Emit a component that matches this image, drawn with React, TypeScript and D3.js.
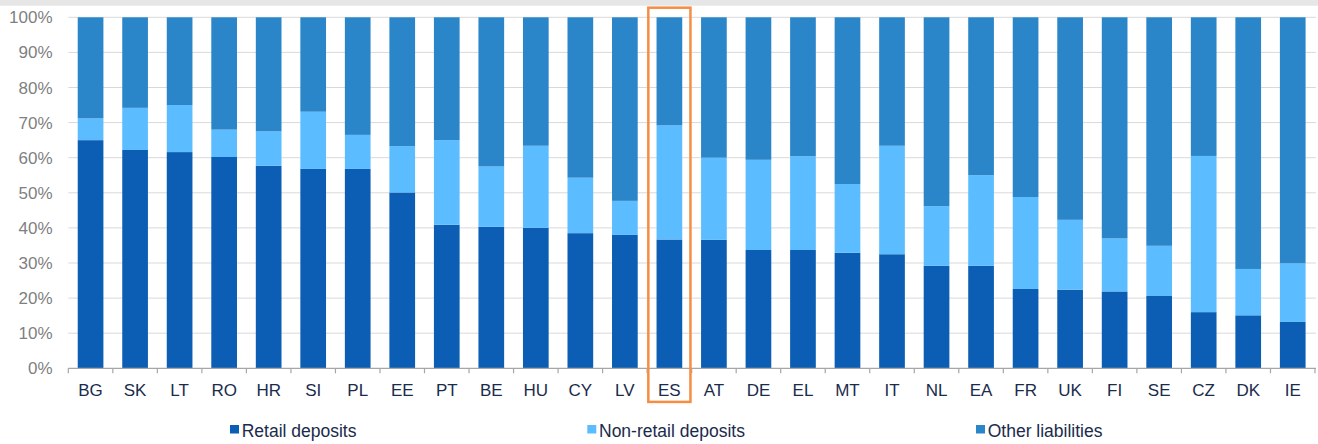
import React from "react";
import * as d3 from "d3";

const categories = ["BG","SK","LT","RO","HR","SI","PL","EE","PT","BE","HU","CY","LV","ES","AT","DE","EL","MT","IT","NL","EA","FR","UK","FI","SE","CZ","DK","IE"];
// share of total liabilities (%)
const retailDeposits = [65.0,62.2,61.6,60.2,57.7,56.8,56.8,50.1,40.9,40.3,40.0,38.5,38.0,36.7,36.6,33.7,33.7,32.9,32.5,29.2,29.2,22.6,22.4,21.9,20.6,16.0,15.1,13.2];
const nonRetailDeposits = [6.2,12.0,13.4,7.8,9.8,16.3,9.7,13.2,24.1,17.2,23.4,15.8,9.7,32.5,23.4,25.7,26.7,19.6,30.9,17.0,25.8,26.2,19.9,15.1,14.3,44.5,13.2,16.7];
const otherLiabilities = retailDeposits.map((r, i) => 100 - r - nonRetailDeposits[i]);
const yTicks = [0,10,20,30,40,50,60,70,80,90,100];
const seriesNames = ["Retail deposits","Non-retail deposits","Other liabilities"];
const seriesColors = ["#0b5eb3","#5bbdff","#2a86c9"];
const highlighted = "ES";

const W = 1318, H = 444;
const X0 = 68.3, X1 = 1315, Y0 = 368.3, Y1 = 17.3;

export default function App() {
  const x = d3.scaleBand<string>().domain(categories).range([X0, X1]).paddingInner(0.423).paddingOuter(0.2115);
  const y = d3.scaleLinear().domain([0, 100]).range([Y0, Y1]);
  const step = x.step();
  const rows = categories.map((c, i) => ({
    cat: c,
    retail: retailDeposits[i],
    nonretail: nonRetailDeposits[i],
    other: otherLiabilities[i],
  }));
  const stack = d3.stack<any>().keys(["retail", "nonretail", "other"])(rows);
  const font = "'Liberation Sans', Arial, sans-serif";
  const legendX = [230, 587.3, 976];
  const hx = x(highlighted)!;

  return (
    <svg width={W} height={H} style={{ position: "fixed", left: 0, top: 0, background: "#fff" }} fontFamily={font}>
      <rect x={0} y={0} width={W} height={5.7} fill="#e6e6e6" />
      {yTicks.map((t) => (
        <g key={t}>
          {t > 0 && <line x1={X0} x2={1316} y1={y(t)} y2={y(t)} stroke="#d9d9d9" strokeWidth={1} />}
          <text x={52.5} y={y(t) + 6} textAnchor="end" fontSize={17} fill="#7f7f7f">{t}%</text>
        </g>
      ))}
      {stack.map((s, si) => (
        <g key={si} fill={seriesColors[si]}>
          {s.map((d: any, i: number) => (
            <rect key={i} x={x(categories[i])} width={x.bandwidth()} y={y(d[1])} height={y(d[0]) - y(d[1])} />
          ))}
        </g>
      ))}
      <line x1={X0} x2={1316} y1={Y0} y2={Y0} stroke="#a6a6a6" strokeWidth={1.2} />
      {d3.range(categories.length + 1).map((i) => (
        <line key={i} x1={X0 + i * step} x2={X0 + i * step} y1={Y0} y2={Y0 + 5} stroke="#a6a6a6" strokeWidth={1.2} />
      ))}
      {categories.map((c) => (
        <text key={c} x={x(c)! + x.bandwidth() / 2} y={395.5} textAnchor="middle" fontSize={17} fill="#1a2b4c">{c}</text>
      ))}
      <rect x={hx - (x.bandwidth() * 0.423 / 0.577) / 2 + 1.2} y={7.7} width={step - 2.4} height={394.2} fill="none" stroke="#f58d45" strokeWidth={2.5} />
      {seriesNames.map((n, i) => (
        <g key={n}>
          <rect x={legendX[i]} y={425} width={9} height={8.5} fill={seriesColors[i]} />
          <text x={legendX[i] + 11.7} y={436.8} fontSize={17.5} fill="#1a2b4c">{n}</text>
        </g>
      ))}
    </svg>
  );
}
